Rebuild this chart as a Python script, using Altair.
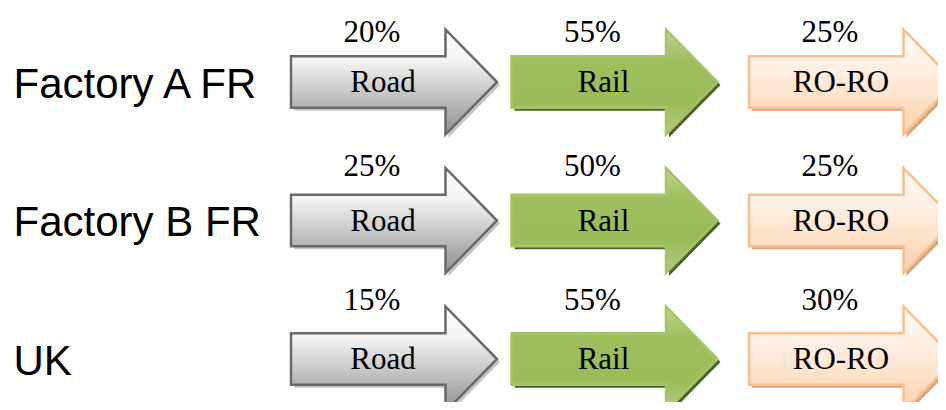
import altair as alt
import pandas as pd

# ---- data ----
origins = ["Factory A FR", "Factory B FR", "UK"]
modes = ["Road", "Rail", "RO-RO"]
road_share = [20, 25, 15]
rail_share = [55, 50, 55]
roro_share = [25, 25, 30]

rows = []
for i, o in enumerate(origins):
    for m, s in zip(modes, [road_share[i], rail_share[i], roro_share[i]]):
        rows.append({"origin": o, "mode": m, "share": s, "pct": f"{s}%"})
df = pd.DataFrame(rows)

# ---- style ----
ARROW = "M -1 -0.25 L 0.5 -0.25 L 0.5 -0.51 L 1 0 L 0.5 0.51 L 0.5 0.25 L -1 0.25 Z"
ARROW_SIZE = 206 ** 2


def grad(stops):
    return alt.LinearGradient(
        gradient="linear",
        stops=[alt.GradientStop(color=c, offset=o) for o, c in stops],
        x1=0, x2=0, y1=0, y2=1,
    )


styles = {
    "Road": dict(
        fill=grad([(0, "#ffffff"), (0.3, "#f3f3f3"), (1, "#8e8e8e")]),
        stroke="#6a6a6a", shadow="#c4c4c4", xoff=0,
    ),
    "Rail": dict(
        fill=grad([(0, "#bcd48e"), (0.3, "#9fbe5e"), (0.7, "#9bbb59"), (1, "#b4cd82")]),
        stroke="#a6c56a", shadow="#4f6228", xoff=-8.5,
    ),
    "RO-RO": dict(
        fill=grad([(0, "#fffbf8"), (0.35, "#fff0e4"), (1, "#fcd0ab")]),
        stroke="#f9bf8f", shadow="#d3a780", xoff=0,
    ),
}

X = alt.X("mode:N", scale=alt.Scale(type="point", domain=modes, range=[386, 844], padding=0), axis=None)
Y_ARROW = alt.Y("origin:N", scale=alt.Scale(type="point", domain=origins, range=[74, 351], padding=0), axis=None)
Y_AXIS = alt.Y(
    "origin:N",
    scale=alt.Scale(type="point", domain=origins, range=[74, 351], padding=0),
    axis=alt.Axis(
        title=None, domain=False, ticks=False, grid=False,
        labelFont="Liberation Sans", labelFontSize=42, labelColor="#000000",
        labelAlign="left", labelBaseline="alphabetic", labelPadding=-5,
        labelOffset=15, labelLimit=400,
    ),
)
Y_PCT = alt.Y("origin:N", scale=alt.Scale(type="point", domain=origins, range=[34, 302], padding=0), axis=None)

layers = []
for mode in modes:
    st = styles[mode]
    base = alt.Chart(df).transform_filter(alt.datum.mode == mode)
    shadow = base.mark_point(
        shape=ARROW, size=ARROW_SIZE, filled=True, fill=st["shadow"], strokeWidth=0,
        opacity=1, xOffset=st["xoff"] + 3, yOffset=3,
    ).encode(x=X, y=Y_AXIS if mode == "Road" else Y_ARROW)
    arrow = base.mark_point(
        shape=ARROW, size=ARROW_SIZE, filled=True, fill=st["fill"], stroke=st["stroke"],
        strokeWidth=2.5, strokeJoin="miter", opacity=1, xOffset=st["xoff"],
    ).encode(x=X, y=Y_ARROW)
    inner = base.mark_text(
        font="Liberation Serif", fontSize=31, baseline="alphabetic", align="center",
        color="#000000", dx=-11, dy=10, xOffset=st["xoff"],
    ).encode(x=X, y=Y_ARROW, text="mode:N")
    pct = base.mark_text(
        font="Liberation Serif", fontSize=31, baseline="alphabetic", align="center",
        color="#000000", dx=-22, xOffset=st["xoff"],
    ).encode(x=X, y=Y_PCT, text="pct:N")
    layers += [shadow, arrow, inner, pct]

chart = (
    alt.layer(*layers)
    .resolve_scale(y="independent")
    .properties(width=930, height=394, padding=0, autosize="none", background="#ffffff")
    .configure_view(strokeWidth=0)
)

chart.save("out.html", embed_options={"renderer": "svg", "actions": False})
